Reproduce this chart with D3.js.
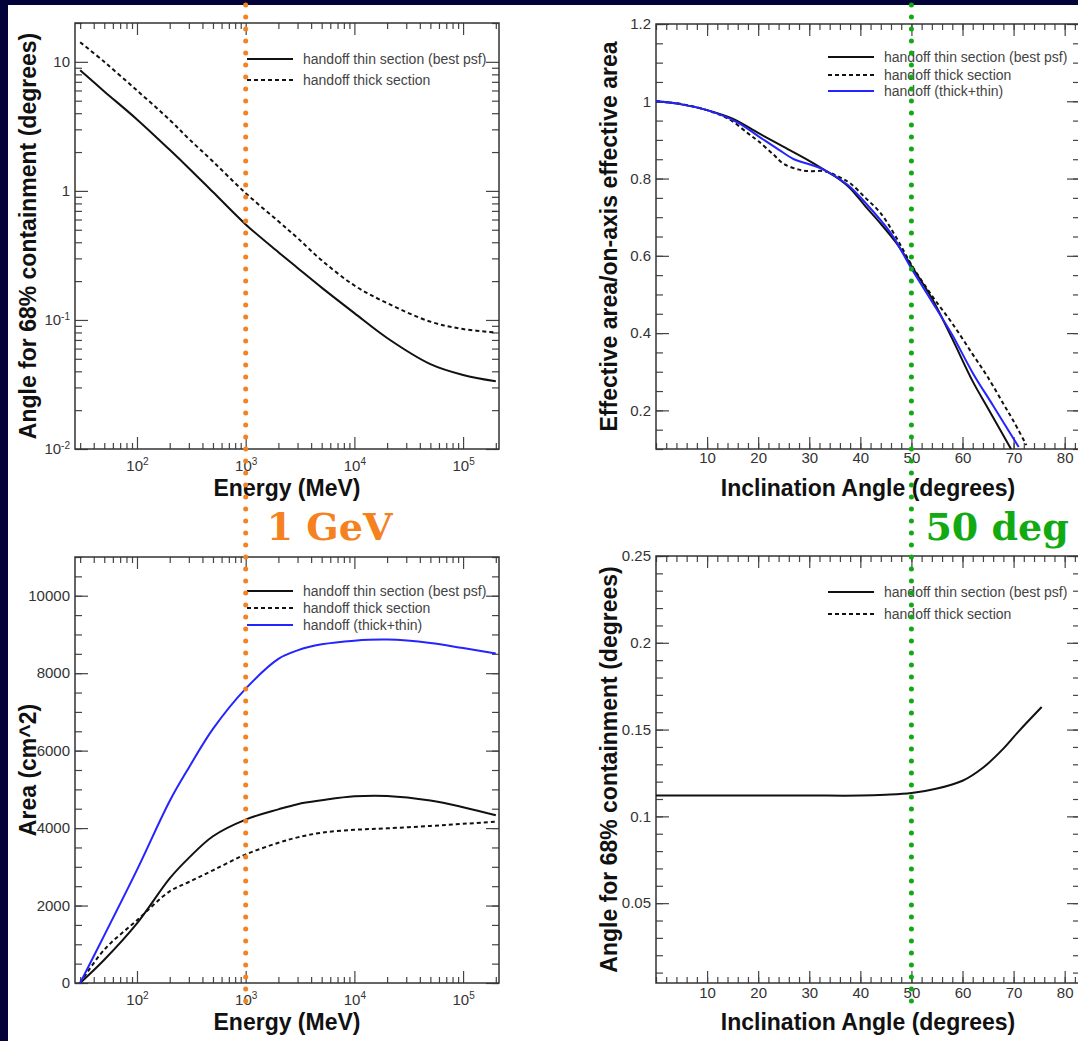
<!DOCTYPE html>
<html>
<head>
<meta charset="utf-8">
<script src="https://cdn.jsdelivr.net/npm/d3@7"></script>
<style>
  html, body { margin: 0; padding: 0; background: #fff; }
  svg { display: block; font-family: "Liberation Sans", Arial, Helvetica, sans-serif; }
</style>
</head>
<body>
<script>
// ---- data ----
var energyMeV  = [30, 50, 100, 200, 300, 500, 1000, 2000, 3000, 5000, 10000, 20000, 50000, 100000, 200000];
var psfThin    = [8.6, 5.9, 3.58, 2.08, 1.5, 0.98, 0.55, 0.335, 0.253, 0.178, 0.113, 0.0725, 0.0455, 0.0375, 0.0335];
var psfThick   = [14.2, 10.0, 6.0, 3.55, 2.53, 1.69, 0.96, 0.581, 0.431, 0.29, 0.185, 0.135, 0.097, 0.085, 0.080];
var areaThin   = [0, 600, 1540, 2700, 3230, 3790, 4220, 4484, 4618, 4717, 4820, 4830, 4710, 4539, 4330];
var areaThick  = [0, 860, 1620, 2368, 2608, 2910, 3320, 3620, 3760, 3880, 3955, 3994, 4055, 4110, 4165];
var areaBoth   = [0, 1230, 2920, 4700, 5560, 6560, 7600, 8370, 8590, 8745, 8840, 8867, 8781, 8648, 8510];

var thinAngles  = [0, 5, 10, 15, 20, 25, 30, 33, 36, 38, 41, 44, 47, 50, 54, 58, 62, 65, 69.5];
var thinRelArea = [1.0, 0.992, 0.977, 0.955, 0.918, 0.882, 0.846, 0.822, 0.797, 0.775, 0.728, 0.683, 0.634, 0.574, 0.49, 0.385, 0.275, 0.205, 0.1];
var thickAngles  = [0, 5, 10, 13, 15, 18, 20, 23, 25, 28, 30, 33, 36, 38, 41, 44, 47, 50, 54, 58, 62, 65, 68, 70, 72.5];
var thickRelArea = [1.0, 0.993, 0.977, 0.962, 0.948, 0.917, 0.897, 0.862, 0.838, 0.823, 0.819, 0.819, 0.803, 0.788, 0.75, 0.71, 0.648, 0.577, 0.497, 0.425, 0.345, 0.285, 0.217, 0.172, 0.11];
var bothAngles  = [0, 5, 10, 16, 20, 24, 27, 30, 33, 37.5, 41, 46, 50, 54, 58, 62, 66, 71];
var bothRelArea = [1.0, 0.992, 0.977, 0.945, 0.91, 0.875, 0.85, 0.837, 0.822, 0.784, 0.737, 0.658, 0.567, 0.482, 0.395, 0.297, 0.212, 0.105];

var psfAngles   = [0, 10, 20, 30, 40, 45, 50, 55, 60, 64, 68, 71, 75.5];
var psfVsAngle  = [0.112, 0.112, 0.112, 0.112, 0.112, 0.1125, 0.1135, 0.116, 0.1205, 0.128, 0.139, 0.149, 0.163];

var legendThin  = "handoff thin section (best psf)";
var legendThick = "handoff thick section";
var legendBoth  = "handoff (thick+thin)";

var energyTicks = [100, 1000, 10000, 100000];
var angleTicks  = [10, 20, 30, 40, 50, 60, 70, 80];

// ---- layout ----
var W = 1078, H = 1041;
var navy = "#03033a";
var orange = "#f5821f", green = "#12aa12", blue = "#2424ff";

var svg = d3.select("body").append("svg").attr("width", W).attr("height", H);
svg.append("rect").attr("width", W).attr("height", H).attr("fill", "#fff");

var panels = {
  tl: {x: 75,  y: 23,  w: 424, h: 426},
  tr: {x: 656, y: 24,  w: 424, h: 425},
  bl: {x: 75,  y: 557, w: 424, h: 426},
  br: {x: 656, y: 556, w: 424, h: 427}
};

function logMinors(lo, hi) {
  var out = [];
  for (var e = -3; e <= 6; e++) {
    for (var m = 2; m <= 9; m++) {
      var v = m * Math.pow(10, e);
      if (v >= lo && v <= hi) out.push(v);
    }
  }
  return out;
}

function stepMinors(lo, hi, step) {
  return d3.range(Math.ceil(lo / step - 1e-9), Math.floor(hi / step + 1e-9) + 1).map(function (i) { return +(i * step).toFixed(4); });
}

function supLabel(sel, d) {
  var e = Math.round(Math.log10(d));
  sel.text("10");
  sel.append("tspan").attr("dy", "-0.55em").attr("font-size", "10px").text(e);
}

// draw a frame with inward ticks on all four sides
function buildPanel(p, x, y, opt) {
  var g = svg.append("g").attr("transform", "translate(" + p.x + "," + p.y + ")");
  var clipId = "clip" + p.x + "_" + p.y;
  g.append("clipPath").attr("id", clipId).append("rect").attr("width", p.w).attr("height", p.h);

  function ticks(axisFn, scale, vals, size, tr) {
    var a = g.append("g").attr("transform", tr)
      .call(axisFn(scale).tickValues(vals).tickSize(-size).tickFormat(""));
    a.select(".domain").remove();
    a.selectAll("line").attr("stroke", "#444").attr("stroke-width", 1.2);
  }
  [[opt.xMajor, 12], [opt.xMinor, 6]].forEach(function (t) {
    ticks(d3.axisBottom, x, t[0], t[1], "translate(0," + p.h + ")");
    ticks(d3.axisTop, x, t[0], t[1], "translate(0,0)");
  });
  [[opt.yMajor, 13], [opt.yMinor, 7]].forEach(function (t) {
    ticks(d3.axisLeft, y, t[0], t[1], "translate(0,0)");
    ticks(d3.axisRight, y, t[0], t[1], "translate(" + p.w + ",0)");
  });

  g.append("rect").attr("width", p.w).attr("height", p.h)
    .attr("fill", "none").attr("stroke", "#333").attr("stroke-width", 1.5);

  // tick labels
  var xl = g.append("g").attr("transform", "translate(0," + p.h + ")")
    .call(d3.axisBottom(x).tickValues(opt.xMajor).tickSize(0).tickPadding(opt.xPad).tickFormat(opt.xFmt || ""));
  xl.select(".domain").remove();
  xl.selectAll("text").attr("font-size", "15px").attr("fill", "#333").attr("font-family", null);
  if (opt.xLog) xl.selectAll(".tick text").each(function (d) { supLabel(d3.select(this), d); });

  var yl = g.append("g")
    .call(d3.axisLeft(y).tickValues(opt.yMajor).tickSize(0).tickPadding(5).tickFormat(opt.yFmt || ""));
  yl.select(".domain").remove();
  yl.selectAll("text").attr("font-size", "15px").attr("fill", "#333").attr("font-family", null);
  if (opt.yLog) yl.selectAll(".tick text").each(function (d) {
    if (d >= 1) d3.select(this).text(d3.format("d")(d)); else supLabel(d3.select(this), d);
  });

  // axis titles
  g.append("text").attr("x", p.w / 2).attr("y", opt.xTitleY)
    .attr("text-anchor", "middle").attr("font-size", "23px").attr("font-weight", "bold").attr("fill", "#111")
    .text(opt.xTitle);
  g.append("text").attr("transform", "translate(" + (opt.yTitleX - p.x) + "," + (p.h / 2) + ") rotate(-90)")
    .attr("text-anchor", "middle").attr("font-size", "23px").attr("font-weight", "bold").attr("fill", "#111")
    .text(opt.yTitle);

  var plot = g.append("g").attr("clip-path", "url(#" + clipId + ")");
  return {g: g, plot: plot};
}

function drawSeries(plot, x, y, xs, ys, style) {
  var pts = xs.map(function (v, i) { return [v, ys[i]]; });
  var line = d3.line().x(function (d) { return x(d[0]); }).y(function (d) { return y(d[1]); })
    .curve(d3.curveCatmullRom.alpha(0.5));
  plot.append("path").datum(pts).attr("d", line)
    .attr("fill", "none").attr("stroke", style.color).attr("stroke-width", 2)
    .attr("stroke-dasharray", style.dash || null).attr("stroke-linejoin", "round");
}

function drawLegend(g, lx, entries) {
  entries.forEach(function (e) {
    g.append("line").attr("x1", lx).attr("x2", lx + 46).attr("y1", e.y).attr("y2", e.y)
      .attr("stroke", e.color).attr("stroke-width", 2).attr("stroke-dasharray", e.dash || null);
    g.append("text").attr("x", lx + 56).attr("y", e.y + 5).attr("font-size", "14px").attr("fill", "#444").text(e.label);
  });
}

var solid = {color: "#111"}, dashed = {color: "#111", dash: "4,3"}, blueLine = {color: blue};

// ---- top left: PSF vs energy ----
var pTL = panels.tl;
var xE = d3.scaleLog().domain([26.9, 2.14e5]).range([0, pTL.w]);
var yPsf = d3.scaleLog().domain([0.01, 20]).range([pTL.h, 0]);
var tl = buildPanel(pTL, xE, yPsf, {
  xMajor: energyTicks, xMinor: logMinors(26.9, 2.14e5), xLog: true, xPad: 11,
  yMajor: [0.01, 0.1, 1, 10], yMinor: logMinors(0.01, 20), yLog: true,
  xTitle: "Energy (MeV)", xTitleY: 473, yTitle: "Angle for 68% containment (degrees)", yTitleX: 36
});
drawSeries(tl.plot, xE, yPsf, energyMeV, psfThick, dashed);
drawSeries(tl.plot, xE, yPsf, energyMeV, psfThin, solid);
drawLegend(tl.g, 172, [
  {y: 36, color: "#111", label: legendThin},
  {y: 57, color: "#111", dash: "4,3", label: legendThick}
]);

// ---- top right: relative area vs angle ----
var pTR = panels.tr;
var xA = d3.scaleLinear().domain([0, 83]).range([0, pTR.w]);
var yRel = d3.scaleLinear().domain([0.1, 1.2]).range([pTR.h, 0]);
var tr = buildPanel(pTR, xA, yRel, {
  xMajor: angleTicks, xMinor: stepMinors(0, 83, 2), xPad: 3.5, xFmt: d3.format("d"),
  yMajor: [0.2, 0.4, 0.6, 0.8, 1, 1.2], yMinor: stepMinors(0.1, 1.2, 0.05), yFmt: function (d) { return String(+d.toFixed(2)); },
  xTitle: "Inclination Angle (degrees)", xTitleY: 472, yTitle: "Effective area/on-axis effective area", yTitleX: 617
});
drawSeries(tr.plot, xA, yRel, thickAngles, thickRelArea, dashed);
drawSeries(tr.plot, xA, yRel, thinAngles, thinRelArea, solid);
drawSeries(tr.plot, xA, yRel, bothAngles, bothRelArea, blueLine);
drawLegend(tr.g, 172, [
  {y: 33, color: "#111", label: legendThin},
  {y: 51, color: "#111", dash: "4,3", label: legendThick},
  {y: 67, color: blue, label: legendBoth}
]);

// ---- bottom left: area vs energy ----
var pBL = panels.bl;
var xE2 = d3.scaleLog().domain([26.9, 2.14e5]).range([0, pBL.w]);
var yArea = d3.scaleLinear().domain([0, 11000]).range([pBL.h, 0]);
var bl = buildPanel(pBL, xE2, yArea, {
  xMajor: energyTicks, xMinor: logMinors(26.9, 2.14e5), xLog: true, xPad: 11,
  yMajor: d3.range(0, 10001, 2000), yMinor: stepMinors(0, 11000, 500), yFmt: d3.format("d"),
  xTitle: "Energy (MeV)", xTitleY: 473, yTitle: "Area (cm^2)", yTitleX: 36
});
drawSeries(bl.plot, xE2, yArea, energyMeV, areaThick, dashed);
drawSeries(bl.plot, xE2, yArea, energyMeV, areaThin, solid);
drawSeries(bl.plot, xE2, yArea, energyMeV, areaBoth, blueLine);
drawLegend(bl.g, 172, [
  {y: 34, color: "#111", label: legendThin},
  {y: 51, color: "#111", dash: "4,3", label: legendThick},
  {y: 68, color: blue, label: legendBoth}
]);

// ---- bottom right: PSF vs angle ----
var pBR = panels.br;
var xA2 = d3.scaleLinear().domain([0, 83]).range([0, pBR.w]);
var yPsfA = d3.scaleLinear().domain([0.004, 0.25]).range([pBR.h, 0]);
var br = buildPanel(pBR, xA2, yPsfA, {
  xMajor: angleTicks, xMinor: stepMinors(0, 83, 2), xPad: 4.5, xFmt: d3.format("d"),
  yMajor: [0.05, 0.1, 0.15, 0.2, 0.25], yMinor: stepMinors(0.01, 0.25, 0.01), yFmt: function (d) { return String(+d.toFixed(2)); },
  xTitle: "Inclination Angle (degrees)", xTitleY: 474, yTitle: "Angle for 68% containment (degrees)", yTitleX: 617
});
drawSeries(br.plot, xA2, yPsfA, psfAngles, psfVsAngle, solid);
drawLegend(br.g, 172, [
  {y: 36, color: "#111", label: legendThin},
  {y: 58, color: "#111", dash: "4,3", label: legendThick}
]);

// ---- navy slide border ----
svg.append("rect").attr("x", 0).attr("y", 0).attr("width", W).attr("height", 5).attr("fill", navy);
svg.append("rect").attr("x", 0).attr("y", 0).attr("width", 8).attr("height", H).attr("fill", navy);

// ---- annotations: 1 GeV and 50 deg markers ----
var gevX = pTL.x + xE(1000);
var degX = pTR.x + xA(50);
[[gevX, orange], [degX, green]].forEach(function (m) {
  svg.append("line").attr("x1", m[0]).attr("x2", m[0]).attr("y1", 5).attr("y2", 1002)
    .attr("stroke", m[1]).attr("stroke-width", 5).attr("stroke-linecap", "round").attr("stroke-dasharray", "0,12");
});
svg.append("text").attr("x", gevX + 21).attr("y", 540)
  .attr("font-family", "'DejaVu Serif', serif").attr("font-weight", "bold").attr("font-size", "38px")
  .attr("fill", orange).text("1 GeV");
svg.append("text").attr("x", degX + 14).attr("y", 540)
  .attr("font-family", "'DejaVu Serif', serif").attr("font-weight", "bold").attr("font-size", "38px")
  .attr("fill", green).text("50 deg");
</script>
</body>
</html>
